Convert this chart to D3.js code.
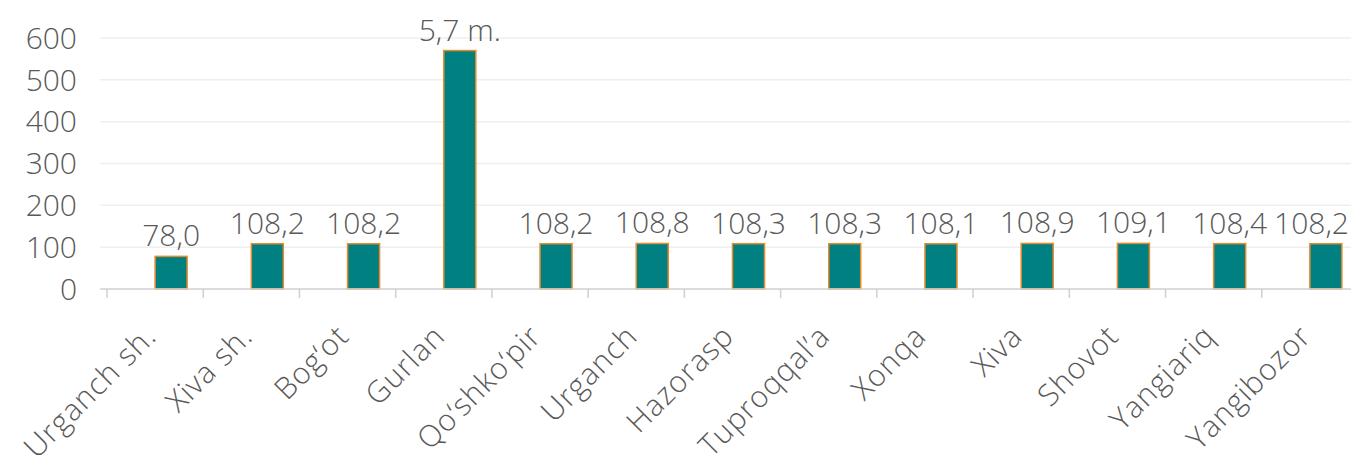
<!DOCTYPE html>
<html>
<head>
<meta charset="utf-8">
<script src="https://cdn.jsdelivr.net/npm/d3@7"></script>
<style>
  body { margin: 0; background: #fff; }
  text { font-family: "Open Sans", "Lato", sans-serif; font-weight: 300; fill: #595959; }
</style>
</head>
<body>
<div id="canvas"></div>
<script>
"use strict"

/* Data */
let districts = ["Urganch sh.", "Xiva sh.", "Bog\u2018ot", "Gurlan", "Qo\u2018shko\u2018pir", "Urganch",
    "Hazorasp", "Tuproqqal\u2019a", "Xonqa", "Xiva", "Shovot", "Yangiariq", "Yangibozor"];
let values = [78.0, 108.2, 108.2, 570, 108.2, 108.8, 108.3, 108.3, 108.1, 108.9, 109.1, 108.4, 108.2];
let valueLabels = ["78,0", "108,2", "108,2", "5,7 m.", "108,2", "108,8", "108,3", "108,3", "108,1",
    "108,9", "109,1", "108,4", "108,2"];
let yTicks = [0, 100, 200, 300, 400, 500, 600];

/* Drawing config */
let svgWidth = 1351;
let svgHeight = 468;
let fontSize = 30;

let svg = d3.select("#canvas")
    .append("svg")
    .attr("width", svgWidth)
    .attr("height", svgHeight);

let xScale = d3.scaleBand()
    .domain(districts)
    .range([107, 1358]);

let yScale = d3.scaleLinear()
    .domain([0, 600])
    .range([289, 38]);

let barWidth = 32;

/* gridlines */
svg.append("g")
    .selectAll("line")
    .data(yTicks.slice(1))
    .join("line")
    .attr("x1", 100)
    .attr("x2", svgWidth)
    .attr("y1", d => yScale(d))
    .attr("y2", d => yScale(d))
    .attr("stroke", "#efefef")
    .attr("stroke-width", 1.5);

/* y tick labels */
svg.append("g")
    .selectAll("text")
    .data(yTicks)
    .join("text")
    .attr("x", 77)
    .attr("y", d => yScale(d))
    .attr("dy", "0.36em")
    .attr("text-anchor", "end")
    .style("font-size", fontSize + "px")
    .text(d => d);

/* bars */
svg.append("g")
    .selectAll("rect")
    .data(values)
    .join("rect")
    .attr("x", (d, i) => xScale(districts[i]) + xScale.bandwidth() / 2)
    .attr("y", d => yScale(d))
    .attr("width", barWidth)
    .attr("height", d => yScale(0) - yScale(d))
    .attr("fill", "#008080")
    .attr("stroke", "#e8892a")
    .attr("stroke-width", 1.5);

/* value labels - the last one is pushed left so it stays inside the frame */
let valueText = svg.append("g")
    .selectAll("text")
    .data(values)
    .join("text")
    .attr("x", (d, i) => xScale(districts[i]) + xScale.bandwidth() / 2 + barWidth / 2)
    .attr("y", d => yScale(d) - 10)
    .attr("text-anchor", "middle")
    .style("font-size", fontSize + "px")
    .text((d, i) => valueLabels[i]);

valueText.each(function () {
    let box = this.getBBox();
    if (box.x + box.width > svgWidth - 2) {
        d3.select(this).attr("x", svgWidth - 2).attr("text-anchor", "end");
    }
});

/* x axis line and ticks */
svg.append("line")
    .attr("x1", 100)
    .attr("x2", svgWidth)
    .attr("y1", yScale(0))
    .attr("y2", yScale(0))
    .attr("stroke", "#d0d0d0")
    .attr("stroke-width", 1.5);

svg.append("g")
    .selectAll("line")
    .data(districts)
    .join("line")
    .attr("x1", d => xScale(d))
    .attr("x2", d => xScale(d))
    .attr("y1", yScale(0))
    .attr("y2", yScale(0) + 9)
    .attr("stroke", "#d0d0d0")
    .attr("stroke-width", 1.5);

/* category labels, rotated (a bit of spacing to get closer to the original's round font) */
svg.append("g")
    .selectAll("text")
    .data(districts)
    .join("text")
    .attr("transform", d => "translate(" + (xScale(d) + xScale.bandwidth() / 2 + 3) + ",338) rotate(-45)")
    .attr("text-anchor", "end")
    .style("font-size", "30px")
    .style("letter-spacing", "1px")
    .text(d => d);
</script>
</body>
</html>
